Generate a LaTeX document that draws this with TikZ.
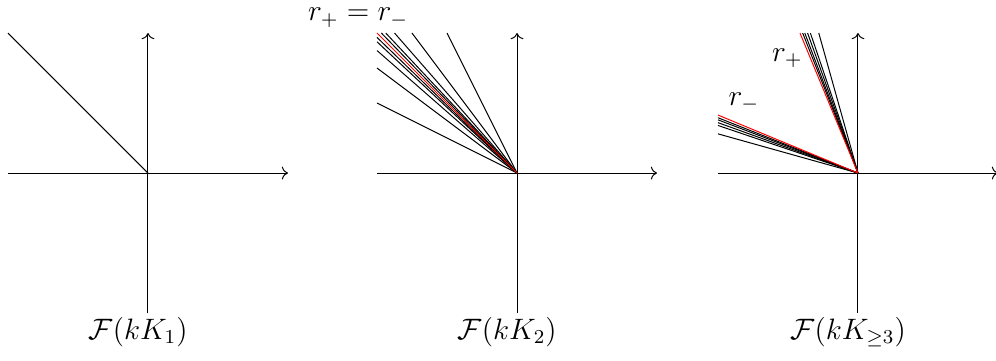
\documentclass[tikz,border=0pt]{standalone}
\usepackage{amsmath}
\usetikzlibrary{arrows.meta}

\begin{document}
\begin{tikzpicture}[>=To, every node/.style={font=\large}]
    % 定义参数
    \def\L{2}          % 坐标轴半长
    \def\Oy{2.671}     % 原点高度
    \def\lim{0.4142}   % r_+, r_- 的斜率

    \useasboundingbox (0,0) rectangle (14.229,5.143);

    % 三个坐标系
    \foreach \ox/\lab/\nm in {2.114/1/a, 7.386/2/b, 12.257/{\geq 3}/c} {
        \begin{scope}[shift={(\ox,\Oy)}]
            \draw[->] (-\L,0) -- (\L,0);
            \draw[->] (0,-\L) -- (0,\L);
            \node (lab\nm) at (-0.14,-2.27) {$\mathcal{F}(kK_{\lab})$};
        \end{scope}
    }

    % kK_1
    \begin{scope}[shift={(2.114,\Oy)}]
        \draw (0,0) -- (-\L,\L);
    \end{scope}

    % kK_2: 斜率 1-2^{-n}
    \begin{scope}[shift={(7.386,\Oy)}]
        \foreach \n in {1,...,5} {
            \pgfmathsetmacro{\r}{1-2^(-\n)}
            \draw (0,0) -- (-\L,\L*\r);
            \draw (0,0) -- (-\L*\r,\L);
        }
        \draw[red] (0,0) -- (-\L,\L);
        \node[inner sep=0pt] (req) at (-2.27,2.22) {$r_+ = r_-$};
    \end{scope}

    % kK_{>=3}
    \begin{scope}[shift={(12.257,\Oy)}]
        \foreach \r in {0.28,0.34,0.36,0.38,0.395} {
            \draw (0,0) -- (-\L,\L*\r);
            \draw (0,0) -- (-\L*\r,\L);
        }
        \draw[red] (0,0) -- (-\L,\L*\lim);
        \draw[red] (0,0) -- (-\L*\lim,\L);
        \node (rplus) at (-1.01,1.64) {$r_+$};
        \node (rminus) at (-1.63,1.01) {$r_-$};
    \end{scope}
\end{tikzpicture}
\end{document}
